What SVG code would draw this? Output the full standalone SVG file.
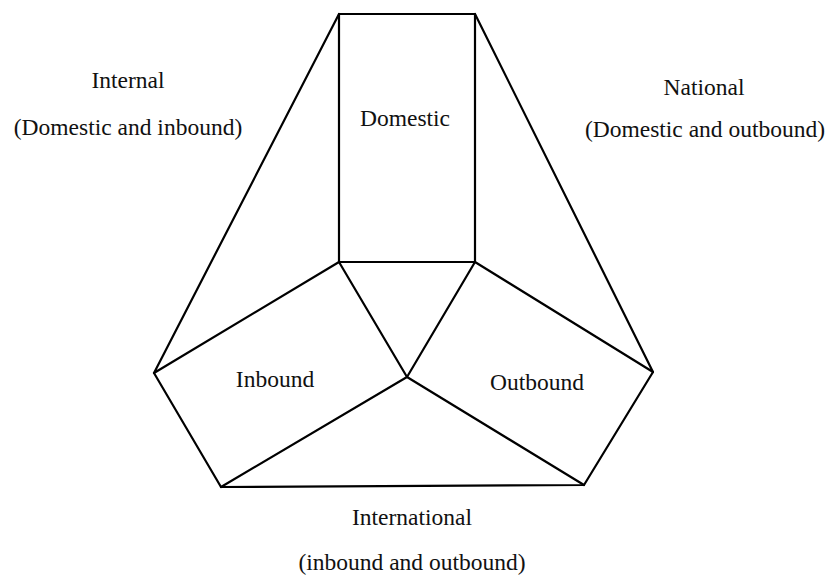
<svg xmlns="http://www.w3.org/2000/svg" width="828" height="577" viewBox="0 0 828 577">
<style>
.l{stroke:#000;stroke-width:2.2;fill:none;stroke-linecap:round;stroke-linejoin:round}
text{font-family:"Liberation Serif","Times New Roman",serif;font-size:23.5px;fill:#111;text-anchor:middle}
</style>
<rect width="828" height="577" fill="#fff"/>
<g id="connectors">
<path class="l" d="M339,14 L475,14 L475,262 L339,262 Z"/>
<path class="l" d="M339,14 L154,373 L339,262 L407,377 L475,262 L653,372 L475,14"/>
<path class="l" d="M154,373 L221,487 L584,485 L653,372"/>
<path class="l" d="M221,487 L407,377 L584,485"/>
</g>
<g id="domestic"><text x="405" y="126">Domestic</text></g>
<g id="inbound"><text x="275" y="387">Inbound</text></g>
<g id="outbound"><text x="537" y="390">Outbound</text></g>
<g id="internal"><text x="128" y="88">Internal</text><text x="128" y="135">(Domestic and inbound)</text></g>
<g id="national"><text x="704" y="95">National</text><text x="705" y="137">(Domestic and outbound)</text></g>
<g id="international"><text x="412" y="525">International</text><text x="412" y="570">(inbound and outbound)</text></g>
</svg>
